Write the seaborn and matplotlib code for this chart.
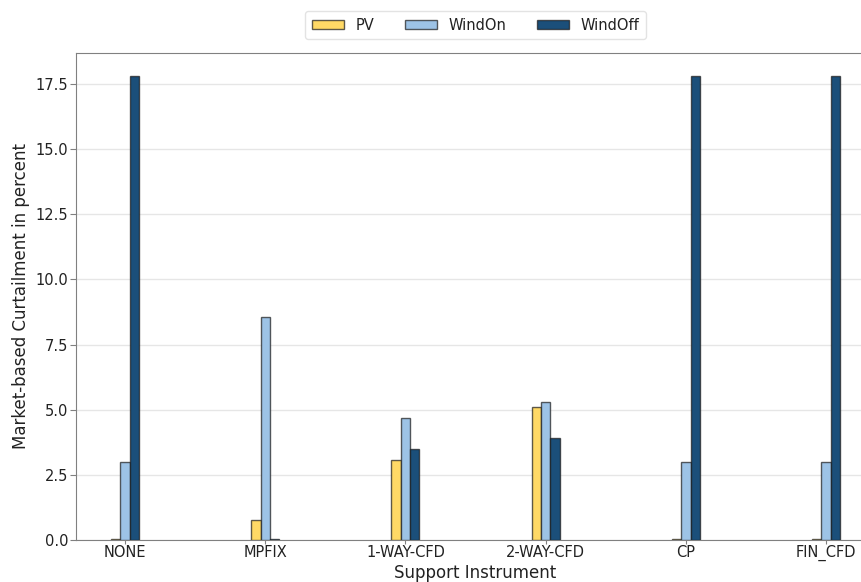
import numpy as np
import pandas as pd
import seaborn as sns
from matplotlib import pyplot as plt

instruments = ["NONE", "MPFIX", "1-WAY-CFD", "2-WAY-CFD", "CP", "FIN_CFD"]
pv = [0.05, 0.75, 3.05, 5.12, 0.04, 0.04]
wind_on = [3.0, 8.57, 4.67, 5.3, 3.0, 3.0]
wind_off = [17.8, 0.02, 3.49, 3.9, 17.8, 17.8]

df = pd.DataFrame({
    "Support Instrument": instruments * 3,
    "value": pv + wind_on + wind_off,
    "tech": ["PV"] * 6 + ["WindOn"] * 6 + ["WindOff"] * 6,
})
colors = {"PV": "#FFD966", "WindOn": "#9DC3E6", "WindOff": "#1B4F7A"}

sns.set_style("white")
plt.rcParams["font.family"] = ["DejaVu Sans"]
plt.rcParams["text.color"] = "#222222"
plt.rcParams["axes.labelcolor"] = "#222222"
plt.rcParams["xtick.color"] = "#222222"
plt.rcParams["ytick.color"] = "#222222"

fig = plt.figure(figsize=(8.62, 5.82), dpi=100)
ax = fig.add_axes([0.0882, 0.0722, 0.927, 0.837])

sns.barplot(data=df, x="Support Instrument", y="value", hue="tech",
            palette=colors, saturation=1, width=0.2, linewidth=1,
            ax=ax, zorder=3)
for p in ax.patches:
    p.set_edgecolor((0.1, 0.1, 0.1, 0.7))

ax.set_xlim(-0.35, 5.35)
ax.yaxis.grid(True, color="#e6e6e6", linewidth=1, zorder=0)
ax.set_axisbelow(True)
for s in ax.spines.values():
    s.set_color("#808080")
ax.tick_params(axis="y", labelsize=10.5, length=4.5, color="#808080", direction="out",
               left=True, pad=1)
ax.tick_params(axis="x", labelsize=10.5, length=3, color="#808080", direction="out",
               bottom=True, pad=0.5)
ax.set_ylabel("Market-based Curtailment in percent", fontsize=12, labelpad=4)
ax.set_xlabel("Support Instrument", fontsize=12, labelpad=2)

ax.legend(loc="lower center", bbox_to_anchor=(0.5, 1.013), ncol=3, fontsize=10.5,
          frameon=True, edgecolor="#dddddd", handlelength=2.2, handleheight=0.6,
          columnspacing=2.1, borderpad=0.45)

fig.savefig("out.png", dpi=100)
